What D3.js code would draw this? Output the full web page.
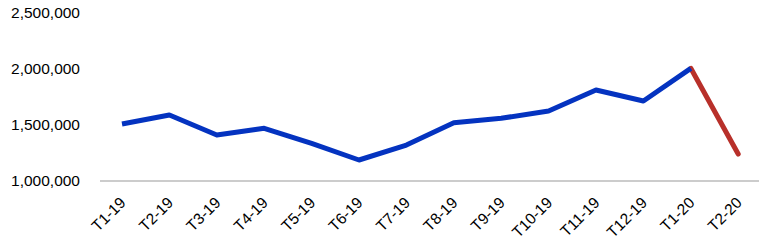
<!DOCTYPE html>
<html>
<head>
<meta charset="utf-8">
<script src="https://cdn.jsdelivr.net/npm/d3@7"></script>
<style>
  body { margin: 0; background: #fff; }
  svg { display: block; font-family: "Liberation Sans", Arial, sans-serif; }
</style>
</head>
<body>
<svg id="chart" width="759" height="244"></svg>
<script>
const months = ['T1-19', 'T2-19', 'T3-19', 'T4-19', 'T5-19', 'T6-19', 'T7-19',
  'T8-19', 'T9-19', 'T10-19', 'T11-19', 'T12-19', 'T1-20', 'T2-20'];
const values = [1507000, 1588000, 1410000, 1469000, 1334000, 1187000, 1320000,
  1519000, 1558000, 1623000, 1810000, 1712000, 2003000, 1240000];
const yTicks = [1000000, 1500000, 2000000, 2500000];

const svg = d3.select('#chart');
const width = 759;

const x = d3.scalePoint()
  .domain(months)
  .range([98.3, 761.9])
  .padding(0.5);

const y = d3.scaleLinear()
  .domain([1000000, 2500000])
  .range([181, 12.5]);

// baseline only, no other grid lines
svg.append('line')
  .attr('x1', 100)
  .attr('x2', width)
  .attr('y1', y(1000000))
  .attr('y2', y(1000000))
  .attr('stroke', '#cccccc')
  .attr('stroke-width', 2);

// y labels
svg.append('g')
  .selectAll('text')
  .data(yTicks)
  .join('text')
  .attr('x', 80)
  .attr('y', d => y(d))
  .attr('dy', '0.35em')
  .attr('text-anchor', 'end')
  .attr('font-size', 15.5)
  .attr('fill', '#000')
  .text(d => d3.format(',')(d));

// x labels, rotated
svg.append('g')
  .selectAll('text')
  .data(months)
  .join('text')
  .attr('transform', d => `translate(${x(d) - 3},${196}) rotate(-45)`)
  .attr('text-anchor', 'end')
  .attr('dy', '0.7em')
  .attr('font-size', 15.5)
  .attr('fill', '#000')
  .text(d => d);

const line = d3.line()
  .x(d => x(d.m))
  .y(d => y(d.v));

const pts = months.map((m, i) => ({ m, v: values[i] }));
const n = pts.length;

// last segment in red
svg.append('path')
  .datum(pts.slice(n - 2))
  .attr('d', line)
  .attr('fill', 'none')
  .attr('stroke', '#b8302a')
  .attr('stroke-width', 5)
  .attr('stroke-linecap', 'round');

svg.append('path')
  .datum(pts.slice(0, n - 1))
  .attr('d', line)
  .attr('fill', 'none')
  .attr('stroke', '#0433c0')
  .attr('stroke-width', 5)
  .attr('stroke-linejoin', 'round');
</script>
</body>
</html>
